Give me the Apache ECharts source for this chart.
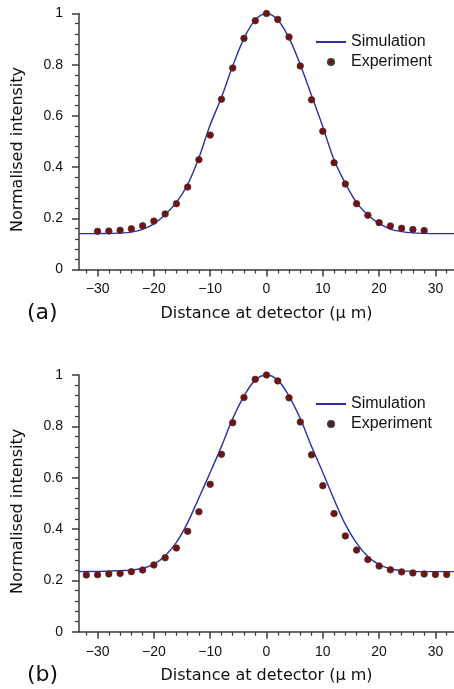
<!DOCTYPE html>
<html>
<head>
<meta charset="utf-8">
<script src="https://cdn.jsdelivr.net/npm/echarts@6/dist/echarts.min.js"></script>
<style>
  html, body { margin: 0; padding: 0; background: #fff; }
  #chart { width: 454px; height: 689px; }
</style>
</head>
<body>
<div id="chart"></div>
<script>
// simulation curve
var simX = [-33.3, -30, -28, -26, -24, -22, -20, -18, -16, -14, -12, -10, -8, -6, -4, -2, 0,
            2, 4, 6, 8, 10, 12, 14, 16, 18, 20, 22, 24, 26, 28, 30, 33.3];
var simTop = [0.140, 0.140, 0.141, 0.142, 0.146, 0.157, 0.178, 0.215, 0.262, 0.332, 0.437, 0.565, 0.672, 0.795, 0.903, 0.975, 1.0,
              0.975, 0.905, 0.800, 0.680, 0.558, 0.428, 0.337, 0.261, 0.213, 0.180, 0.158, 0.148, 0.143, 0.141, 0.140, 0.140];
var simBottom = [0.234, 0.235, 0.236, 0.238, 0.240, 0.247, 0.263, 0.296, 0.348, 0.425, 0.522, 0.620, 0.722, 0.830, 0.918, 0.980, 1.0,
                 0.980, 0.918, 0.830, 0.722, 0.620, 0.515, 0.418, 0.345, 0.293, 0.261, 0.245, 0.238, 0.235, 0.234, 0.234, 0.234];

// experiment points
var expTopX = [-30, -28, -26, -24, -22, -20, -18, -16, -14, -12, -10, -8, -6, -4, -2, 0,
               2, 4, 6, 8, 10, 12, 14, 16, 18, 20, 22, 24, 26, 28];
var expTopY = [0.149, 0.150, 0.153, 0.159, 0.171, 0.189, 0.217, 0.257, 0.322, 0.429, 0.525, 0.665, 0.787, 0.903, 0.972, 1.0,
               0.977, 0.908, 0.795, 0.663, 0.540, 0.417, 0.334, 0.257, 0.212, 0.183, 0.170, 0.161, 0.156, 0.152];
var expBottomX = [-32, -30, -28, -26, -24, -22, -20, -18, -16, -14, -12, -10, -8, -6, -4, -2, 0,
                  2, 4, 6, 8, 10, 12, 14, 16, 18, 20, 22, 24, 26, 28, 30, 32];
var expBottomY = [0.221, 0.222, 0.225, 0.227, 0.234, 0.240, 0.260, 0.288, 0.326, 0.391, 0.467, 0.574, 0.691, 0.814, 0.912, 0.983, 1.0,
                  0.977, 0.911, 0.817, 0.689, 0.569, 0.460, 0.373, 0.318, 0.281, 0.256, 0.241, 0.233, 0.229, 0.225, 0.223, 0.223];

// tick labels
var xMajorTicks = [-30, -20, -10, 0, 10, 20, 30];
var xMinorTicks = [-32, -28, -26, -24, -22, -18, -16, -14, -12, -8, -6, -4, -2,
                   2, 4, 6, 8, 12, 14, 16, 18, 22, 24, 26, 28, 32];
var panelLabels = ['(a)', '(b)'];

var axisColor = '#3a3a3a';
var tickFont = 'Liberation Sans, Arial, sans-serif';
var titleFont = 'DejaVu Sans, sans-serif';

function pairs(xs, ys) {
    return xs.map(function (x, i) { return [x, ys[i]]; });
}

function mainXAxis(gridIndex) {
    return {
        type: 'value',
        gridIndex: gridIndex,
        position: 'bottom',
        min: -33.3,
        max: 33.3,
        name: 'Distance at detector (\u03bc m)',
        nameLocation: 'middle',
        nameGap: 36,
        nameTextStyle: {fontFamily: titleFont, fontSize: 16, color: '#111'},
        axisLine: {show: true, onZero: false, lineStyle: {color: axisColor, width: 1.5}},
        axisTick: {show: true, length: 7, customValues: xMajorTicks, lineStyle: {color: axisColor, width: 1.5}},
        axisLabel: {
            customValues: xMajorTicks,
            margin: 13,
            fontFamily: tickFont,
            fontSize: 14,
            color: '#111',
            formatter: function (v) { return String(v).replace('-', '\u2212'); }
        },
        splitLine: {show: false}
    };
}

function minorXAxis(gridIndex) {
    return {
        type: 'value',
        gridIndex: gridIndex,
        position: 'bottom',
        min: -33.3,
        max: 33.3,
        axisLine: {show: false, onZero: false},
        axisTick: {show: true, length: 4, customValues: xMinorTicks, lineStyle: {color: axisColor, width: 1.2}},
        axisLabel: {show: false},
        splitLine: {show: false}
    };
}

function yAxis(gridIndex) {
    return {
        type: 'value',
        gridIndex: gridIndex,
        position: 'left',
        min: 0,
        max: 1,
        interval: 0.2,
        name: 'Normalised intensity',
        nameLocation: 'middle',
        nameGap: 53,
        nameTextStyle: {fontFamily: titleFont, fontSize: 16, color: '#111', padding: [0, 16, 0, 0]},
        axisLine: {show: true, onZero: false, lineStyle: {color: axisColor, width: 1.5}},
        axisTick: {show: true, length: 7, lineStyle: {color: axisColor, width: 1.5}},
        minorTick: {show: true, splitNumber: 5, length: 4, lineStyle: {color: axisColor, width: 1.2}},
        axisLabel: {margin: 16, fontFamily: tickFont, fontSize: 14, color: '#111'},
        splitLine: {show: false}
    };
}

function legend(top) {
    return {
        left: 310,
        top: top,
        orient: 'vertical',
        itemWidth: 30,
        itemHeight: 6,
        itemGap: 4,
        textStyle: {fontFamily: tickFont, fontSize: 16, color: '#111'},
        data: [
            {name: 'Simulation', itemStyle: {opacity: 0}},
            {name: 'Experiment'}
        ]
    };
}

function simSeries(idx, data) {
    return {
        name: 'Simulation',
        type: 'line',
        xAxisIndex: idx * 2,
        yAxisIndex: idx,
        smooth: 0.35,
        symbol: 'none',
        lineStyle: {color: '#2b30a8', width: 1.4},
        itemStyle: {color: '#2b30a8'},
        data: data,
        z: 2
    };
}

function expSeries(idx, data) {
    return {
        name: 'Experiment',
        type: 'scatter',
        xAxisIndex: idx * 2,
        yAxisIndex: idx,
        symbol: 'circle',
        symbolSize: 6.5,
        itemStyle: {color: '#7b0d0d', borderColor: '#3a3a3a', borderWidth: 0.8, opacity: 1},
        data: data,
        z: 3
    };
}

var chart = echarts.init(document.getElementById('chart'));

var option = {
    animation: false,
    backgroundColor: '#fff',
    grid: [
        {left: 79, right: 0, top: 13.5, height: 256},
        {left: 79, right: 0, top: 375, height: 256.7}
    ],
    xAxis: [mainXAxis(0), minorXAxis(0), mainXAxis(1), minorXAxis(1)],
    yAxis: [yAxis(0), yAxis(1)],
    legend: [legend(29), legend(391)],
    graphic: [
        {type: 'text', left: 27, top: 302, style: {text: panelLabels[0], font: '22px DejaVu Sans', fill: '#111'}},
        {type: 'text', left: 27, top: 664, style: {text: panelLabels[1], font: '22px DejaVu Sans', fill: '#111'}}
    ],
    series: [
        simSeries(0, pairs(simX, simTop)),
        expSeries(0, pairs(expTopX, expTopY)),
        simSeries(1, pairs(simX, simBottom)),
        expSeries(1, pairs(expBottomX, expBottomY))
    ]
};

chart.setOption(option);
</script>
</body>
</html>
